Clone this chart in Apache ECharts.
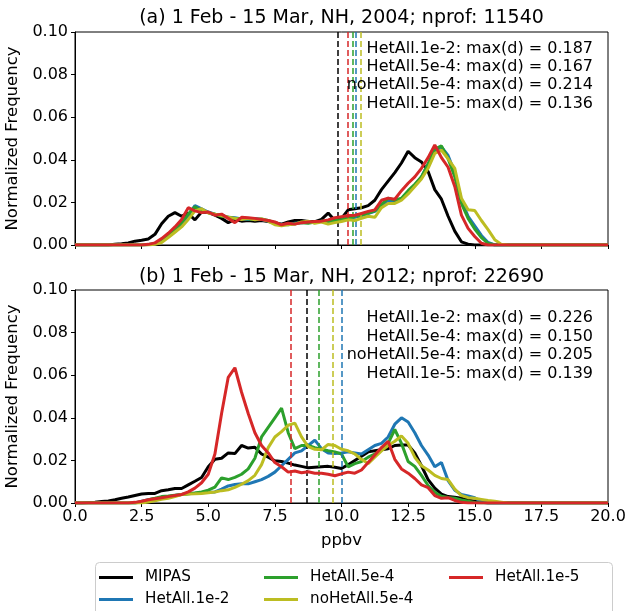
<!DOCTYPE html>
<html><head><meta charset="utf-8">
<script src="https://cdn.jsdelivr.net/npm/echarts@6/dist/echarts.min.js"></script>
<style>html,body{margin:0;padding:0;background:#fff}#c{width:627px;height:611px}</style>
</head><body><div id="c"></div>
<script>
const ppbv = [0,0.25,0.5,0.75,1,1.25,1.5,1.75,2,2.25,2.5,2.75,3,3.25,3.5,3.75,4,4.25,4.5,4.75,5,5.25,5.5,5.75,6,6.25,6.5,6.75,7,7.25,7.5,7.75,8,8.25,8.5,8.75,9,9.25,9.5,9.75,10,10.25,10.5,10.75,11,11.25,11.5,11.75,12,12.25,12.5,12.75,13,13.25,13.5,13.75,14,14.25,14.5,14.75,15,15.25,15.5,15.75,16,16.25,16.5,16.75,17,17.25,17.5,17.75,18,18.25,18.5,18.75,19,19.25,19.5,19.75,20];

const seriesNames = ['MIPAS','HetAll.1e-2','HetAll.5e-4','noHetAll.5e-4','HetAll.1e-5'];
const seriesColors = ['#000000','#1f77b4','#2ca02c','#bcbd22','#d62728'];

// 2004 panel
const mipas2004 = [0,0,0,0,0,0,0.0003,0.0006,
0.001,0.0018,0.0022,0.0028,0.005,0.01,0.0135,0.0152,
0.0135,0.0148,0.0118,0.0155,0.0152,0.014,0.0125,0.0105,
0.012,0.0112,0.0115,0.0112,0.0115,0.011,0.0105,0.0098,
0.0108,0.0115,0.0115,0.011,0.011,0.012,0.015,0.0115,
0.0125,0.0165,0.017,0.0175,0.0185,0.021,0.026,0.03,
0.034,0.0385,0.044,0.041,0.039,0.0345,0.026,0.0215,
0.0135,0.0065,0.0015,0.0004,0,0,0,0,
0,0,0,0,0,0,0,0,
0,0,0,0,0,0,0,0,
0];
const het1e2_2004 = [0,0,0,0,0,0,0,0,
0,0,0,0.0002,0.0005,0.0018,0.0042,0.0072,
0.0095,0.014,0.0185,0.017,0.0155,0.0145,0.014,0.013,
0.0128,0.0122,0.012,0.0125,0.012,0.0112,0.0102,0.0098,
0.0095,0.0102,0.0105,0.0108,0.0105,0.0112,0.0108,0.0112,
0.0118,0.0125,0.013,0.0138,0.0148,0.0158,0.0185,0.021,
0.0205,0.0215,0.025,0.028,0.032,0.038,0.044,0.046,
0.042,0.034,0.021,0.0135,0.009,0.0045,0.0012,0,
0,0,0,0,0,0,0,0,
0,0,0,0,0,0,0,0,
0];
const het5e4_2004 = [0,0,0,0,0,0,0,0,
0,0,0,0.0002,0.0006,0.002,0.0045,0.0075,
0.0105,0.0145,0.018,0.016,0.0152,0.0145,0.0135,0.013,
0.0125,0.0125,0.0122,0.012,0.0122,0.0115,0.0105,0.0095,
0.0098,0.01,0.0105,0.0102,0.0108,0.0112,0.0112,0.0115,
0.012,0.0128,0.0132,0.014,0.015,0.016,0.019,0.022,
0.021,0.022,0.0255,0.0285,0.032,0.038,0.045,0.0465,
0.0405,0.032,0.0195,0.0125,0.0075,0.0035,0.0008,0,
0,0,0,0,0,0,0,0,
0,0,0,0,0,0,0,0,
0];
const nohet5e4_2004 = [0,0,0,0,0,0,0,0,
0,0,0,0,0.0003,0.0012,0.0035,0.006,
0.0085,0.012,0.016,0.017,0.015,0.0145,0.0138,0.013,
0.0125,0.012,0.0125,0.0118,0.0122,0.0112,0.0095,0.009,
0.0095,0.0098,0.0108,0.0112,0.0102,0.0108,0.0098,0.0105,
0.011,0.0118,0.0115,0.0125,0.0135,0.013,0.0175,0.0195,
0.0195,0.021,0.024,0.0275,0.031,0.036,0.043,0.0445,
0.0405,0.036,0.022,0.0165,0.0162,0.0115,0.0072,0.0025,
0.0003,0,0,0,0,0,0,0,
0,0,0,0,0,0,0,0,
0];
const het1e5_2004 = [0,0,0,0,0,0,0,0,
0,0,0,0.0003,0.001,0.003,0.0055,0.0085,
0.012,0.0175,0.016,0.0152,0.0155,0.014,0.0145,0.0125,
0.0105,0.013,0.0128,0.0125,0.012,0.0115,0.0108,0.0095,
0.0102,0.0098,0.0105,0.0108,0.011,0.0112,0.0118,0.0128,
0.0133,0.0138,0.014,0.0148,0.0158,0.0165,0.021,0.022,
0.0215,0.0255,0.029,0.032,0.036,0.041,0.047,0.041,
0.0365,0.0275,0.014,0.0078,0.004,0.0008,0,0,
0,0,0,0,0,0,0,0,
0,0,0,0,0,0,0,0,
0];

// 2012 panel
const mipas2012 = [0,0,0.0002,0.0004,0.0007,0.001,0.0015,0.0022,
0.0028,0.0035,0.0042,0.0045,0.0045,0.0058,0.0062,0.0068,
0.0068,0.0085,0.0102,0.012,0.017,0.0205,0.021,0.0235,
0.0232,0.027,0.0258,0.0262,0.023,0.0215,0.0198,0.0195,
0.0187,0.0178,0.0172,0.0165,0.0168,0.017,0.0172,0.0168,
0.0162,0.018,0.02,0.022,0.024,0.0245,0.025,0.0255,
0.027,0.0272,0.0272,0.0235,0.0175,0.011,0.007,0.0042,
0.003,0.0027,0.0022,0.0014,0.0008,0.0003,0,0,
0,0,0,0,0,0,0,0,
0,0,0,0,0,0,0,0,
0];
const het1e2_2012 = [0,0,0,0,0,0,0,0,
0,0,0.0008,0.0015,0.002,0.0024,0.003,0.0035,
0.004,0.0043,0.0046,0.0048,0.005,0.0052,0.0065,0.008,
0.0087,0.009,0.009,0.01,0.011,0.0125,0.0145,0.0175,
0.0205,0.0235,0.0245,0.027,0.0295,0.0255,0.0235,0.0232,
0.0235,0.024,0.0235,0.023,0.025,0.027,0.028,0.031,
0.037,0.04,0.038,0.033,0.027,0.0225,0.017,0.019,
0.0105,0.006,0.004,0.0033,0.0025,0.0006,0,0,
0,0,0,0,0,0,0,0,
0,0,0,0,0,0,0,0,
0];
const het5e4_2012 = [0,0,0,0,0,0,0,0,
0,0,0.0005,0.0015,0.0022,0.003,0.0033,0.0037,
0.004,0.0043,0.0047,0.0052,0.006,0.0075,0.0118,0.011,
0.012,0.0135,0.016,0.021,0.031,0.0355,0.04,0.0445,
0.033,0.0255,0.027,0.027,0.026,0.0252,0.0245,0.024,
0.023,0.017,0.0185,0.0195,0.0215,0.023,0.025,0.028,
0.0345,0.028,0.0195,0.0172,0.013,0.0082,0.005,0.0032,
0.0026,0.0022,0.0014,0.0008,0.0002,0,0,0,
0,0,0,0,0,0,0,0,
0,0,0,0,0,0,0,0,
0];
const nohet5e4_2012 = [0,0,0,0,0,0,0,0,
0,0,0,0.0005,0.001,0.0017,0.0022,0.003,
0.004,0.0042,0.0043,0.0045,0.0048,0.0052,0.0058,0.0062,
0.0073,0.0088,0.0105,0.013,0.018,0.026,0.031,0.0335,
0.0365,0.0375,0.031,0.0265,0.0252,0.025,0.0275,0.027,
0.0252,0.0245,0.023,0.0205,0.0185,0.0215,0.0245,0.027,
0.029,0.0315,0.028,0.0215,0.0175,0.0155,0.013,0.0115,
0.011,0.0065,0.0035,0.0025,0.0022,0.0017,0.0012,0.0008,
0.0004,0,0,0,0,0,0,0,
0,0,0,0,0,0,0,0,
0];
const het1e5_2012 = [0,0,0,0,0,0,0,0,
0,0.0003,0.0008,0.0015,0.002,0.0025,0.003,0.0035,
0.004,0.0052,0.007,0.0095,0.0135,0.023,0.042,0.059,
0.0635,0.052,0.042,0.033,0.027,0.0235,0.019,0.017,
0.0145,0.015,0.0142,0.0147,0.014,0.014,0.0135,0.0128,
0.0137,0.0145,0.014,0.0155,0.019,0.0225,0.026,0.029,
0.0205,0.016,0.014,0.0115,0.0085,0.0072,0.0035,0.0022,
0.0025,0.0012,0.0003,0,0,0,0,0,
0,0,0,0,0,0,0,0,
0,0,0,0,0,0,0,0,
0];

// vertical dashed lines (ppbv), same order as seriesNames
const medians2004 = [9.86, 10.53, 10.42, 10.73, 10.23];
const medians2012 = [8.68, 10.02, 9.15, 9.66, 8.08];

const titles = ['(a) 1 Feb - 15 Mar, NH, 2004; nprof: 11540', '(b) 1 Feb - 15 Mar, NH, 2012; nprof: 22690'];
const annot2004 = ['HetAll.1e-2: max(d) = 0.187','HetAll.5e-4: max(d) = 0.167','noHetAll.5e-4: max(d) = 0.214','HetAll.1e-5: max(d) = 0.136'];
const annot2012 = ['HetAll.1e-2: max(d) = 0.226','HetAll.5e-4: max(d) = 0.150','noHetAll.5e-4: max(d) = 0.205','HetAll.1e-5: max(d) = 0.139'];
const xTicks = [0, 2.5, 5, 7.5, 10, 12.5, 15, 17.5, 20];

const panels = [
  [mipas2004, het1e2_2004, het5e4_2004, nohet5e4_2004, het1e5_2004],
  [mipas2012, het1e2_2012, het5e4_2012, nohet5e4_2012, het1e5_2012]
];
const medians = [medians2004, medians2012];
const annots = [annot2004, annot2012];

const FONT = 'DejaVu Sans';
const G = [{left:75, top:32, width:533, height:213}, {left:75, top:290, width:533, height:213}];

const chart = echarts.init(document.getElementById('c'), null, {renderer:'canvas'});

const xAxes = G.map((g, i) => ({
  gridIndex: i, type: 'value', min: xTicks[0], max: xTicks[xTicks.length-1], interval: 2.5,
  axisLine: {show: true, onZero: false, lineStyle: {color: '#000', width: 1}},
  axisTick: {show: true, length: 4, lineStyle: {color: '#000'}},
  splitLine: {show: false},
  axisLabel: {show: i === 1, formatter: v => v.toFixed(1), color: '#000', fontFamily: FONT, fontSize: 16, margin: 6},
  name: i === 1 ? 'ppbv' : '', nameLocation: 'middle', nameGap: 29,
  nameTextStyle: {color: '#000', fontFamily: FONT, fontSize: 16.5}
}));
const yAxes = G.map((g, i) => ({
  gridIndex: i, type: 'value', min: 0, max: 0.1, interval: 0.02,
  axisLine: {show: true, onZero: false, lineStyle: {color: '#000', width: 1}},
  axisTick: {show: true, length: 4, lineStyle: {color: '#000'}},
  splitLine: {show: false},
  axisLabel: {formatter: v => v.toFixed(2), color: '#000', fontFamily: FONT, fontSize: 16, margin: 7},
  name: 'Normalized Frequency', nameLocation: 'middle', nameGap: 48,
  nameTextStyle: {color: '#000', fontFamily: FONT, fontSize: 16.5}
}));

const series = [];
panels.forEach((arrs, p) => {
  arrs.forEach((arr, k) => {
    series.push({
      name: seriesNames[k], type: 'line', xAxisIndex: p, yAxisIndex: p,
      data: ppbv.map((x, i) => [x, arr[i]]),
      showSymbol: false, symbol: 'none', color: seriesColors[k],
      lineStyle: {color: seriesColors[k], width: 3}, z: 2 + k, clip: true,
      animation: false,
      markLine: {
        silent: true, symbol: 'none', animation: false,
        label: {show: false},
        lineStyle: {color: seriesColors[k], type: [6, 3], width: 1.5},
        data: [{xAxis: medians[p][k]}]
      }
    });
  });
});

const graphic = [];
titles.forEach((t, p) => {
  graphic.push({type: 'text', x: 341.5, y: p === 0 ? 18 : 277,
    style: {text: t, fill: '#000', font: '19px "' + FONT + '"', textAlign: 'center', textVerticalAlign: 'middle'}});
});
const annY = [[49, 67, 85, 104], [318, 337, 355, 374]];
annots.forEach((lines, p) => {
  lines.forEach((t, j) => {
    graphic.push({type: 'text', x: 593, y: annY[p][j], z: 10,
      style: {text: t, fill: '#000', font: '16px "' + FONT + '"', textAlign: 'right', textVerticalAlign: 'middle'}});
  });
});
graphic.push({type: 'rect', shape: {x: 95.5, y: 562.5, width: 517, height: 60, r: 4},
  style: {fill: '#fff', stroke: '#cccccc', lineWidth: 1}, z: 0});

const legendPos = [[99, 570], [99, 592], [264, 570], [264, 592], [449, 570]];
const legends = seriesNames.map((n, k) => ({
  data: [n], left: legendPos[k][0], top: legendPos[k][1], selectedMode: false,
  icon: 'rect', itemWidth: 34, itemHeight: 3, padding: 0,
  textStyle: {color: '#000', fontFamily: FONT, fontSize: 15.2, padding: [0, 0, 0, 7]}
}));

chart.setOption({
  animation: false,
  backgroundColor: '#fff',
  grid: G.map(g => Object.assign({show: true, borderColor: '#000', borderWidth: 1, backgroundColor: 'transparent', containLabel: false, outerBoundsMode: 'none'}, g)),
  xAxis: xAxes, yAxis: yAxes, series, legend: legends, graphic
});
</script></body></html>
